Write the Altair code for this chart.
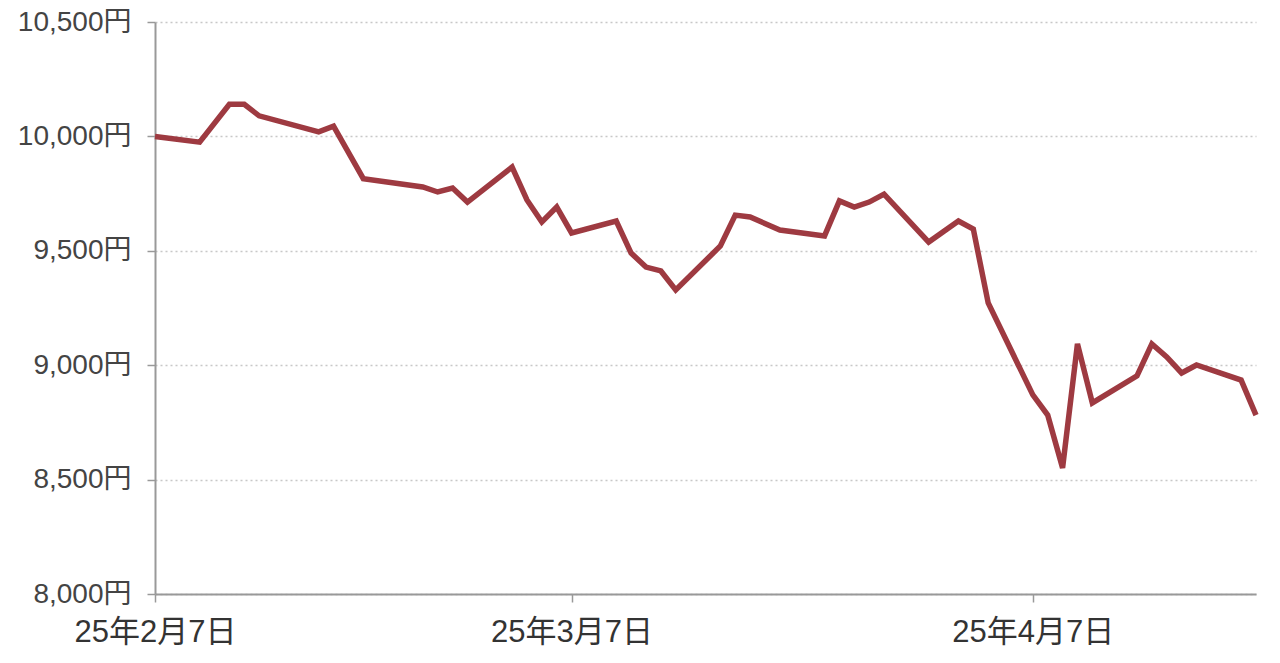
import altair as alt
import pandas as pd

dates = [
    "2025-02-07", "2025-02-10", "2025-02-12", "2025-02-13", "2025-02-14",
    "2025-02-18", "2025-02-19", "2025-02-21", "2025-02-25", "2025-02-26",
    "2025-02-27", "2025-02-28", "2025-03-03", "2025-03-04", "2025-03-05",
    "2025-03-06", "2025-03-07", "2025-03-10", "2025-03-11", "2025-03-12",
    "2025-03-13", "2025-03-14", "2025-03-17", "2025-03-18", "2025-03-19",
    "2025-03-21", "2025-03-24", "2025-03-25", "2025-03-26", "2025-03-27",
    "2025-03-28", "2025-03-31", "2025-04-02", "2025-04-03", "2025-04-04",
    "2025-04-07", "2025-04-08", "2025-04-09", "2025-04-10", "2025-04-11",
    "2025-04-14", "2025-04-15", "2025-04-16", "2025-04-17", "2025-04-18",
    "2025-04-21", "2025-04-22",
]
prices = [
    10000, 9975, 10140, 10140, 10090,
    10020, 10045, 9815, 9779, 9757,
    9774, 9713, 9866, 9722, 9626,
    9691, 9578, 9630, 9490, 9429,
    9412, 9329, 9521, 9656, 9648,
    9591, 9565, 9718, 9691, 9713,
    9748, 9538, 9630, 9595, 9272,
    8870, 8782, 8551, 9093, 8835,
    8953, 9093, 9036, 8966, 9001,
    8935, 8782,
]
y_ticks = [8000, 8500, 9000, 9500, 10000, 10500]

df = pd.DataFrame({"date": dates, "price": prices})

font = "Liberation Sans, Noto Sans CJK JP"

chart = (
    alt.Chart(df)
    .mark_line(color="#9E3A41", strokeWidth=5.5, strokeJoin="miter", strokeCap="butt")
    .encode(
        x=alt.X(
            "date:T",
            scale=alt.Scale(
                domain=[
                    alt.DateTime(year=2025, month=2, date=7),
                    alt.DateTime(year=2025, month=4, date=22),
                ]
            ),
            axis=alt.Axis(
                title=None,
                values=[
                    alt.DateTime(year=2025, month=2, date=7),
                    alt.DateTime(year=2025, month=3, date=7),
                    alt.DateTime(year=2025, month=4, date=7),
                ],
                format="%y年%-m月%-d日",
                grid=False,
                domainColor="#999999",
                domainWidth=2,
                tickColor="#999999",
                tickWidth=1.5,
                tickSize=8,
                labelFont=font,
                labelFontSize=31,
                labelColor="#333333",
                labelPadding=15,
                labelFlush=False,
            ),
        ),
        y=alt.Y(
            "price:Q",
            scale=alt.Scale(domain=[8000, 10500], nice=False, zero=False),
            axis=alt.Axis(
                title=None,
                values=y_ticks,
                labelExpr="format(datum.value, ',') + '円'",
                grid=True,
                gridColor="#c8c8c8",
                gridDash=[2, 3],
                gridWidth=1.5,
                domainColor="#999999",
                domainWidth=2,
                tickColor="#999999",
                tickWidth=1.5,
                tickSize=8,
                labelFont=font,
                labelFontSize=28,
                labelColor="#444444",
                labelPadding=16,
            ),
        ),
    )
    .properties(
        width=1101,
        height=572,
        autosize=alt.AutoSizeParams(type="none"),
        padding={"left": 147, "top": 14, "right": 16, "bottom": 60},
    )
    .configure_view(stroke=None)
)

chart.save("out.html", embed_options={"renderer": "svg", "actions": False})
